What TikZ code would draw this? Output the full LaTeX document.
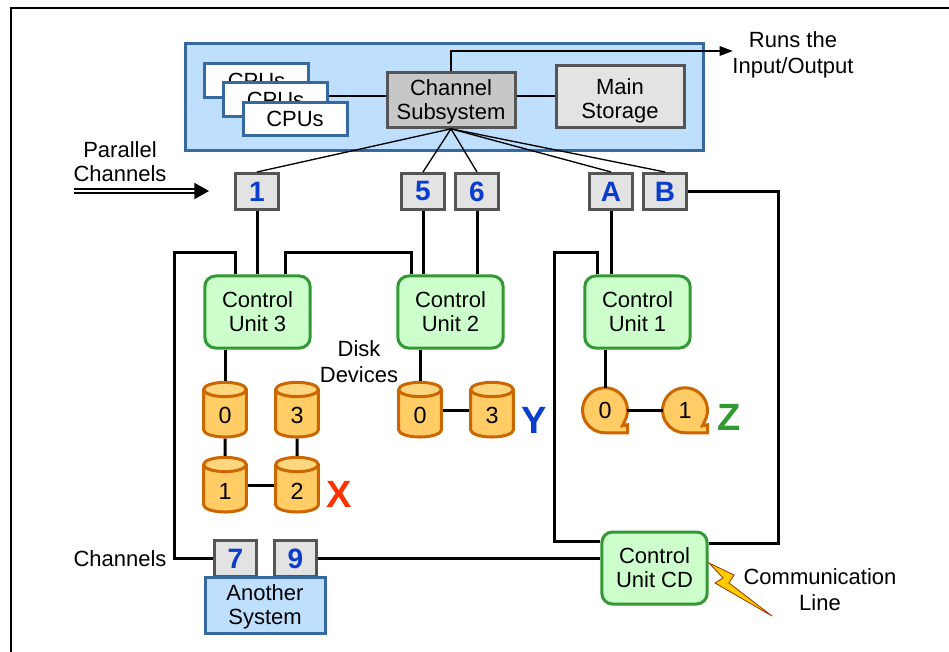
\documentclass[tikz,border=0pt]{standalone}
\usepackage{fontspec}
\setmainfont{Liberation Sans}
\definecolor{sysblue}{RGB}{191, 223, 255}
\definecolor{sysedge}{RGB}{54, 105, 160}
\definecolor{unitgreen}{RGB}{204, 255, 204}
\definecolor{unitedge}{RGB}{51, 153, 51}
\definecolor{diskfill}{RGB}{255, 204, 102}
\definecolor{disktop}{RGB}{255, 214, 128}
\definecolor{diskedge}{RGB}{204, 102, 0}
\definecolor{chanblue}{RGB}{10, 60, 205}
\definecolor{chanedge}{RGB}{85, 85, 85}
\definecolor{setred}{RGB}{255, 51, 0}
\definecolor{boltfill}{RGB}{255, 204, 0}
\definecolor{boltedge}{RGB}{153, 51, 0}
\usetikzlibrary{shapes.geometric, arrows.meta, positioning, calc}
\tikzset{
  label text/.style={font=\fontsize{16.5}{18}\selectfont, align=center, inner sep=0pt},
  sysbox/.style={label text, draw=sysedge, fill=sysblue, line width=2.25pt},
  cpubox/.style={label text, draw=sysedge, fill=white, line width=2.25pt, minimum width=78pt, minimum height=25pt},
  graybox/.style={label text, draw=chanedge, line width=2.25pt, minimum width=96pt},
  chanbox/.style={draw=chanedge, fill=black!11, line width=2.25pt, minimum width=32pt, minimum height=27pt, inner sep=0pt,
    text=chanblue, font=\fontsize{21}{21}\selectfont\bfseries},
  unitbox/.style={label text, draw=unitedge, fill=unitgreen, line width=2.25pt, rounded corners=8pt, minimum width=79pt, minimum height=54pt},
  diskbox/.style={cylinder, shape border rotate=90, aspect=1.1, draw=diskedge, line width=2.25pt, cylinder uses custom fill,
    cylinder body fill=diskfill, cylinder end fill=disktop, minimum width=32pt, minimum height=41pt, inner sep=0pt,
    text height=15pt, font=\fontsize{17.5}{18}\selectfont},
  tapebox/.style={circle, minimum size=32pt, inner sep=0pt, font=\fontsize{17.5}{18}\selectfont},
  setname/.style={inner sep=0pt, font=\fontsize{28.5}{28.5}\selectfont\bfseries},
  thinlink/.style={line width=1pt},
  midlink/.style={line width=1.5pt},
  link/.style={line width=2.25pt},
}
\newcommand{\tapedrive}[4]{
  \draw[draw=diskedge, fill=diskfill, line width=2.25pt] (#2+19.5,#3+11.5) arc[start angle=30, end angle=-270, radius=22.5]
    -- ++(22.5,0) -- ++(0,-8) -- ++(-5,1) -- cycle;
  \node[tapebox] (#1) at (#2,#3) {#4};
}
\begin{document}
\begin{tikzpicture}[x=0.75pt, y=-0.75pt]
  \useasboundingbox (0,0) rectangle (949,652);
  \draw[line width=1.1pt] (11,652) -- (11,8) -- (949,8);

  \node[sysbox, minimum width=388pt, minimum height=80pt] (host) at (444.5,97) {};
  \node[cpubox] (cpua) at (256.5,80.5) {CPUs};
  \node[cpubox] (cpub) at (275.5,99.5) {CPUs};
  \node[cpubox] (cpuc) at (295,119) {CPUs};
  \node[graybox, fill=black!22, minimum height=41pt] (chansub) at (451,100) {\rule{0pt}{14pt}Channel\\Subsystem};
  \node[graybox, fill=black!11, minimum height=47pt] (mainstore) at (620,96.5) {\rule{0pt}{18pt}Main\\Storage};

  \node[chanbox] (ch1) at (257,191.5) {1};
  \node[chanbox] (ch5) at (423,191.5) {5};
  \node[chanbox] (ch6) at (477,191.5) {6};
  \node[chanbox] (chA) at (611,191.5) {A};
  \node[chanbox] (chB) at (665,191.5) {B};

  \node[unitbox] (cu3) at (257.5,312) {Control\\Unit 3};
  \node[unitbox] (cu2) at (450.5,312) {Control\\Unit 2};
  \node[unitbox] (cu1) at (637.5,312) {Control\\Unit 1};
  \node[unitbox] (cucd) at (654.5,568) {Control\\Unit CD};

  \node[diskbox] (xdisk0) at (225,414) {0};
  \node[diskbox] (xdisk3) at (297,414) {3};
  \node[diskbox] (xdisk1) at (225,489) {1};
  \node[diskbox] (xdisk2) at (297,489) {2};
  \node[diskbox] (ydisk0) at (420,414) {0};
  \node[diskbox] (ydisk3) at (492,414) {3};
  \tapedrive{ztape0}{605}{410}{0}
  \tapedrive{ztape1}{685}{410}{1}

  \node[chanbox] (ch7) at (235.5,558.5) {7};
  \node[chanbox] (ch9) at (295.5,558.5) {9};
  \node[sysbox, minimum width=90pt, minimum height=42pt] (other) at (265,605) {\rule{0pt}{15pt}Another\\System};

  \node[label text] (runs) at (793,55) {Runs the\\[1.5pt]Input/Output};
  \node[label text] (parallel) at (120,162) {Parallel\\Channels};
  \node[label text] (diskdev) at (359,362) {Disk\\[1.5pt]Devices};
  \node[label text] (chanlabel) at (120,558.5) {Channels};
  \node[label text] (commline) at (820,590) {Communication\\[1.5pt]Line};
  \node[setname, text=setred] (setx) at (339,494) {X};
  \node[setname, text=chanblue] (sety) at (534,420) {Y};
  \node[setname, text=unitedge] (setz) at (729,417) {Z};

  \coordinate (runsend) at (733,51);
  \coordinate (parstart) at (74,191);
  \coordinate (parend) at (209,191);
  \coordinate (looptl) at (174,253);
  \coordinate (looptr) at (235,253);
  \coordinate (crossl) at (285,253);
  \coordinate (crossr) at (411,253);
  \coordinate (cdtl) at (554,253);
  \coordinate (cdtr) at (597,253);
  \coordinate (cdbl) at (554,541);
  \coordinate (cdbr) at (778,543);

  \draw[midlink, -{Triangle[length=10pt, width=7pt]}] (chansub.north) |- (runsend);
  \draw[midlink] (cpub.east |- mainstore) -- (chansub.west |- mainstore);
  \draw[midlink] (chansub.east |- mainstore) -- (mainstore.west);
  \foreach \chan in {ch1, ch5, ch6, chA, chB}
    \draw[thinlink] (chansub.south) -- (\chan.north);
  \draw[line width=1.5pt, double, double distance=1pt, -{Triangle[length=11pt, width=12pt]}] (parstart) -- (parend);

  \draw[link] (ch1.south) -- (ch1.south |- cu3.north);
  \draw[link] (ch5.south) -- (ch5.south |- cu2.north);
  \draw[link] (ch6.south) -- (ch6.south |- cu2.north);
  \draw[link] (chA.south) -- (chA.south |- cu1.north);
  \draw[link] (chB.east) -| (cdbr) -- (cdbr -| cucd.east);
  \draw[link] (ch7.west) -| (looptl) -- (looptr) -- (looptr |- cu3.north);
  \draw[link] (crossl |- cu3.north) -- (crossl) -- (crossr) -- (crossr |- cu2.north);
  \draw[link] (cdtr |- cu1.north) -- (cdtr) -- (cdtl) -- (cdbl) -- (cdbl -| cucd.west);
  \draw[link] (ch9.east) -- (ch9.east -| cucd.west);

  \draw[link] (xdisk0.north |- cu3.south) -- (xdisk0.north);
  \draw[link] (xdisk0.south) -- (xdisk1.north);
  \draw[link] (xdisk3.south) -- (xdisk2.north);
  \draw[link] ([yshift=3pt]xdisk1.east) -- ([yshift=3pt]xdisk2.west);
  \draw[link] (ydisk0.north |- cu2.south) -- (ydisk0.north);
  \draw[link] ([yshift=3pt]ydisk0.east) -- ([yshift=3pt]ydisk3.west);
  \draw[link] (ztape0.north |- cu1.south) -- (ztape0.north);
  \draw[link] (ztape0.east) -- (ztape1.west);

  \draw[draw=boltedge, fill=boltfill, line width=0.6pt] (709,563) -- (734,575) -- (729,583) -- (772,616) -- (715,583) -- (723,578) -- cycle;
\end{tikzpicture}
\end{document}
